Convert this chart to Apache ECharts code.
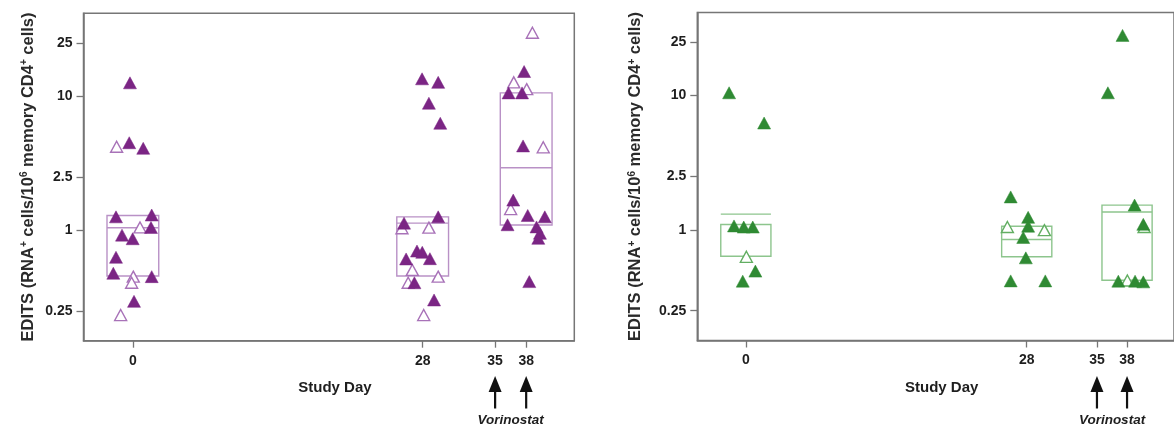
<!DOCTYPE html>
<html>
<head>
<meta charset="utf-8">
<script src="https://cdn.jsdelivr.net/npm/echarts@6/dist/echarts.min.js"></script>
<style>
  html, body { margin: 0; padding: 0; background: #ffffff; }
  #chart { width: 1174px; height: 426px; }
</style>
</head>
<body>
<div id="chart"></div>
<script>
// Axis ticks
const studyDays = [0, 28, 35, 38];
const yTicks = [0.25, 1, 2.5, 10, 25];
const vorinostatDays = [35, 38];

// Left panel (purple): [study day with jitter, EDITS]
const purpleFilled = [
  [-0.28, 12.6], [-0.35, 4.5], [1.0, 4.09], [-1.63, 1.26], [1.82, 1.30], [1.75, 1.05],
  [-1.05, 0.92], [-0.02, 0.865], [-1.63, 0.629], [-1.89, 0.478], [1.82, 0.451], [0.11, 0.295],
  [27.94, 13.5], [29.5, 12.7], [28.6, 8.87], [29.7, 6.29], [29.5, 1.26], [26.2, 1.13],
  [27.45, 0.70], [27.96, 0.685], [26.4, 0.611], [28.7, 0.614], [27.2, 0.406], [29.1, 0.302],
  [37.8, 15.3], [36.3, 10.6], [37.6, 10.6], [37.7, 4.26], [36.75, 1.68], [38.15, 1.29],
  [39.8, 1.26], [36.2, 1.10], [39.0, 1.06], [39.33, 0.95], [39.17, 0.871], [38.3, 0.414]
];
const purpleOpen = [
  [-1.57, 4.2], [0.69, 1.05], [0.04, 0.451], [-0.12, 0.406], [-1.18, 0.233],
  [26.0, 1.035], [28.6, 1.046], [27.0, 0.506], [29.5, 0.451], [26.6, 0.406], [28.1, 0.233],
  [38.6, 29.8], [36.8, 12.7], [38.05, 11.3], [39.65, 4.16], [36.5, 1.44]
];
// [day, lower edge, upper edge, centre line]
const purpleBoxes = [
  [0, 0.456, 1.29, 1.045],
  [28, 0.456, 1.26, 1.13],
  [38, 1.095, 10.6, 2.93]
];

// Right panel (green)
const greenFilled = [
  [-1.67, 10.5], [1.82, 6.25], [-1.18, 1.07], [-0.21, 1.05], [0.69, 1.05], [0.95, 0.493], [-0.31, 0.415],
  [26.4, 1.76], [28.14, 1.24], [28.14, 1.065], [27.65, 0.878], [27.91, 0.619], [26.4, 0.417], [29.85, 0.417],
  [37.55, 28.1], [36.09, 10.5], [38.75, 1.53], [39.62, 1.10], [37.13, 0.415], [38.8, 0.415], [39.62, 0.41]
];
const greenOpen = [
  [0.05, 0.63],
  [26.07, 1.05], [29.76, 0.995],
  [39.7, 1.05], [38.03, 0.42]
];
const greenBoxes = [
  [0, 0.637, 1.097, 1.31],
  [28, 0.630, 1.065, 0.848],
  [38, 0.422, 1.53, 1.36]
];

const BOX_HALF_DAYS = 2.5;
const FONT = '"Liberation Sans", Arial, sans-serif';
const FRAME = '#767676';
const TEXT = '#1e1e1e';

const panels = [
  { left: 83.5, top: 13.3, width: 490.8, height: 327.4, xMin: -4.77, xMax: 42.65,
    filled: purpleFilled, open: purpleOpen, boxes: purpleBoxes,
    fill: '#7b2584', openStroke: '#a872b8', boxStroke: '#b991c6', nameGap: 47 },
  { left: 697.3, top: 12.5, width: 490, height: 328, xMin: -4.84, xMax: 42.68,
    filled: greenFilled, open: greenOpen, boxes: greenBoxes,
    fill: '#2f8a33', openStroke: '#62ae62', boxStroke: '#8dc58d', nameGap: 53 }
];

function boxRenderer(stroke) {
  return function (params, api) {
    const day = api.value(0), lo = api.value(1), hi = api.value(2), mid = api.value(3);
    const tl = api.coord([day - BOX_HALF_DAYS, hi]);
    const br = api.coord([day + BOX_HALF_DAYS, lo]);
    const m1 = api.coord([day - BOX_HALF_DAYS, mid]);
    const m2 = api.coord([day + BOX_HALF_DAYS, mid]);
    return {
      type: 'group',
      children: [
        { type: 'rect', shape: { x: tl[0], y: tl[1], width: br[0] - tl[0], height: br[1] - tl[1] },
          style: { fill: 'none', stroke: stroke, lineWidth: 1.4 } },
        { type: 'line', shape: { x1: m1[0], y1: m1[1], x2: m2[0], y2: m2[1] },
          style: { stroke: stroke, lineWidth: 1.4 } }
      ]
    };
  };
}

const grids = [], xAxes = [], yAxes = [], series = [];
panels.forEach((p, i) => {
  grids.push({ left: p.left, top: p.top, width: p.width, height: p.height,
    show: true, borderColor: FRAME, borderWidth: 1.5, backgroundColor: 'transparent' });
  xAxes.push({
    type: 'value', gridIndex: i, min: p.xMin, max: p.xMax,
    axisLine: { show: true, onZero: false, lineStyle: { color: FRAME, width: 1.5 } },
    axisTick: { show: true, length: 7, customValues: studyDays, lineStyle: { color: FRAME, width: 1.3 } },
    axisLabel: { customValues: studyDays, margin: 13, fontFamily: FONT, fontWeight: 'bold',
      fontSize: 14, color: TEXT },
    splitLine: { show: false },
    name: 'Study Day', nameLocation: 'middle', nameGap: 40,
    nameTextStyle: { fontFamily: FONT, fontWeight: 'bold', fontSize: 15, color: TEXT, padding: [0, 0, 0, 12] }
  });
  yAxes.push({
    type: 'log', logBase: 10, gridIndex: i, min: 0.15, max: 41.6,
    axisLine: { show: true, onZero: false, lineStyle: { color: FRAME, width: 1.5 } },
    axisTick: { show: true, length: 7, customValues: yTicks, lineStyle: { color: FRAME, width: 1.3 } },
    axisLabel: { customValues: yTicks, margin: 11, fontFamily: FONT, fontWeight: 'bold',
      fontSize: 14, color: TEXT, formatter: v => String(v) },
    splitLine: { show: false },
    minorTick: { show: false },
    name: 'EDITS (RNA{sup|+} cells/10{sup|6} memory CD4{sup|+} cells)',
    nameLocation: 'middle', nameGap: p.nameGap,
    nameTextStyle: {
      fontFamily: FONT, fontWeight: 'bold', fontSize: 16.5, color: '#2a2a2a',
      rich: { sup: { fontFamily: FONT, fontWeight: 'bold', fontSize: 10, color: '#2a2a2a', verticalAlign: 'top', padding: [0, 0, 7, 0] } }
    }
  });
  series.push({
    type: 'custom', xAxisIndex: i, yAxisIndex: i, z: 1, silent: true,
    data: p.boxes, encode: { x: 0, y: [1, 2, 3] },
    renderItem: boxRenderer(p.boxStroke)
  });
  series.push({
    type: 'scatter', xAxisIndex: i, yAxisIndex: i, z: 3, silent: true,
    data: p.open, symbol: 'triangle', symbolSize: [12, 11],
    itemStyle: { color: '#ffffff', borderColor: p.openStroke, borderWidth: 1.4, opacity: 1 }
  });
  series.push({
    type: 'scatter', xAxisIndex: i, yAxisIndex: i, z: 4, silent: true,
    data: p.filled, symbol: 'triangle', symbolSize: [13, 12],
    itemStyle: { color: p.fill, borderColor: p.fill, borderWidth: 0.5, opacity: 1 }
  });
});

const chart = echarts.init(document.getElementById('chart'), null, { renderer: 'canvas' });
chart.setOption({
  animation: false,
  backgroundColor: '#ffffff',
  grid: grids, xAxis: xAxes, yAxis: yAxes, series: series
});

// Vorinostat dosing arrows beneath days 35 and 38 of each panel
const annotations = [];
panels.forEach((p, i) => {
  const xs = vorinostatDays.map(d => chart.convertToPixel({ xAxisIndex: i }, d));
  xs.forEach(x => {
    annotations.push({ type: 'polygon', shape: { points: [[x, 376], [x - 6.5, 392], [x + 6.5, 392]] },
      style: { fill: '#111111' } });
    annotations.push({ type: 'line', shape: { x1: x, y1: 390, x2: x, y2: 408.5 },
      style: { stroke: '#111111', lineWidth: 2.2 } });
  });
  annotations.push({ type: 'text', x: (xs[0] + xs[1]) / 2, y: 420,
    style: { text: 'Vorinostat', fontFamily: FONT, fontStyle: 'italic', fontWeight: 'bold', fontSize: 13.5,
      fill: TEXT, align: 'center', verticalAlign: 'middle' } });
});
chart.setOption({ graphic: annotations });
</script>
</body>
</html>
